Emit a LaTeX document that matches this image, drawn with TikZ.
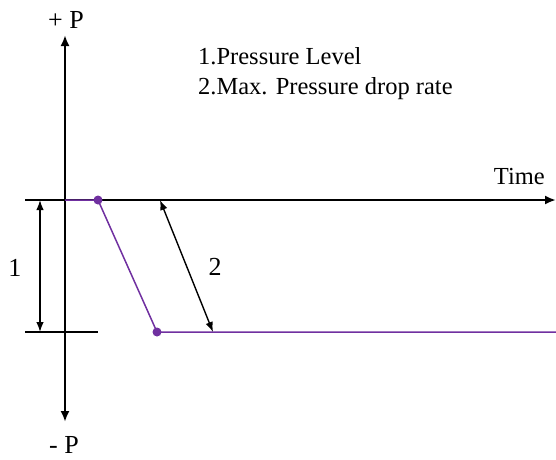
\documentclass[tikz,border=0pt]{standalone}
\usepackage{fontspec}
\setmainfont{Liberation Serif}
\usetikzlibrary{arrows.meta}
\definecolor{purp}{RGB}{112,48,160}

\begin{document}
\begin{tikzpicture}[x=1pt,y=-1pt,font=\fontsize{24.5}{29}\selectfont,>=Latex]
\tikzset{
  axis/.style={-{Latex[length=11pt,width=9pt]},line width=2.2pt,draw=black},
  ref/.style={line width=1.4pt,draw=black},
  dim/.style={{Latex[length=10pt,width=7.5pt]}-{Latex[length=10pt,width=7.5pt]},line width=1.4pt,draw=black},
  curve/.style={line width=1.5pt,draw=purp},
  pt/.style={circle,fill=purp,inner sep=0pt,minimum size=9pt},
  lbl/.style={inner sep=0pt},
  big/.style={font=\fontsize{26}{30}\selectfont}
}
\useasboundingbox (0,0) rectangle (556,459);

% axes
\coordinate (o) at (65,200);
\coordinate (ptop) at (65,35);
\coordinate (pbot) at (65,422);
\coordinate (tleft) at (25,200);
\coordinate (tend) at (556,200);
\draw[axis] (o) -- (ptop);
\draw[axis] (o) -- (pbot);
\draw[axis] (tleft) -- (tend);
\node[lbl,big,anchor=base] (plus) at (66,28) {+ P};
\node[lbl,big,anchor=base] (minus) at (64,453) {- P};
\node[lbl,anchor=base east] (time) at (545,184) {Time};

% pressure curve
\node[pt] (start) at (98,200) {};
\node[pt] (drop) at (157,332) {};
\coordinate (cend) at (556,332);
\draw[curve] (o) -- (start.center) -- (drop.center) -- (cend);

% reference line and dimensions
\coordinate (rleft) at (25,332);
\coordinate (rright) at (98,332);
\draw[ref] (rleft) -- (rright);
\coordinate (d1a) at (40,200);
\coordinate (d1b) at (40,332);
\draw[dim] (d1a) -- (d1b);
\node[lbl,big,anchor=base] (one) at (15,276) {1};
\coordinate (d2a) at (160,200);
\coordinate (d2b) at (213,332);
\draw[dim] (d2a) -- (d2b);
\node[lbl,big,anchor=base] (two) at (215,275) {2};

% legend
\node[lbl,anchor=base west] (leg1) at (198,64) {1.Pressure Level};
\node[lbl,anchor=base west] (leg2) at (198,94) {2.Max. Pressure drop rate};
\end{tikzpicture}
\end{document}
